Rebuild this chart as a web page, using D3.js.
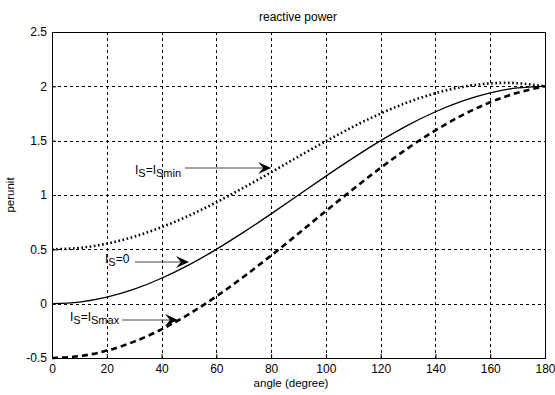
<!DOCTYPE html>
<html><head><meta charset="utf-8">
<script src="https://cdn.jsdelivr.net/npm/d3@7/dist/d3.min.js"></script>
<style>body{margin:0;background:#fff}text{font-family:"Liberation Sans",Arial,sans-serif}</style>
</head><body><svg id="c" width="555" height="395"></svg>
<script>
const angles = [0,10,20,30,40,50,60,70,80,90,100,110,120,130,140,150,160,170,180];
const qZero = [0,0.015,0.060,0.134,0.234,0.357,0.5,0.658,0.826,1,1.174,1.342,1.5,1.643,1.766,1.866,1.940,1.985,2.0];
const qSmin = [0.5,0.513,0.552,0.617,0.704,0.810,0.933,1.068,1.209,1.354,1.495,1.629,1.75,1.854,1.937,1.995,2.027,2.029,2.0];
const qSmax = [-0.5,-0.483,-0.432,-0.349,-0.236,-0.096,0.067,0.248,0.443,0.646,0.853,1.055,1.25,1.432,1.595,1.737,1.853,1.941,2.0];
const xTicks = [0,20,40,60,80,100,120,140,160,180];
const yTicks = [-0.5,0,0.5,1,1.5,2,2.5];
const yTickLabels = ["-0.5","0","0.5","1","1.5","2","2.5"];
const notes = [
  {sub:"S", rest:"=I", sub2:"Smin", tx:135, ty:174, x0:185, y0:168, at:80},
  {sub:"S", rest:"=0", sub2:"", tx:105, ty:263, x0:135, y0:262, at:50},
  {sub:"S", rest:"=I", sub2:"Smax", tx:70, ty:321, x0:122, y0:320, at:46}
];

const svg = d3.select("#c");
const L=52, R=545, T=32, B=358;
const x = d3.scaleLinear().domain([0,180]).range([L,R]);
const y = d3.scaleLinear().domain([-0.5,2.5]).range([B,T]);

// grid
const g = svg.append("g");
g.selectAll("line.gx").data(xTicks.slice(1,-1)).join("line")
  .attr("x1",d=>Math.round(x(d))+0.5).attr("x2",d=>Math.round(x(d))+0.5).attr("y1",T).attr("y2",B)
  .attr("stroke","#000").attr("stroke-width",1).attr("stroke-dasharray","3,3");
g.selectAll("line.gy").data(yTicks.slice(1,-1)).join("line")
  .attr("y1",d=>Math.round(y(d))+0.5).attr("y2",d=>Math.round(y(d))+0.5).attr("x1",L).attr("x2",R)
  .attr("stroke","#000").attr("stroke-width",1).attr("stroke-dasharray","3,3");

// axes
const xa = svg.append("g").attr("transform",`translate(0,${B})`)
  .call(d3.axisBottom(x).tickValues(xTicks).tickSize(-4).tickPadding(6).tickFormat(d3.format("d")));
const ya = svg.append("g").attr("transform",`translate(${L},0)`)
  .call(d3.axisLeft(y).tickValues(yTicks).tickSize(-4).tickPadding(5).tickFormat((d,i)=>yTickLabels[i]));
[xa,ya].forEach(a=>{a.select(".domain").remove();a.selectAll("text").attr("font-size",12).attr("fill","#000");a.selectAll("line").attr("stroke","#000");});
svg.append("rect").attr("x",L+0.5).attr("y",T+0.5).attr("width",R-L).attr("height",B-T)
  .attr("fill","none").attr("stroke","#000").attr("stroke-width",1);

// curves
const line = (vals)=>d3.line().x((d,i)=>x(angles[i])).y(d=>y(d)).curve(d3.curveNatural)(vals);
svg.append("path").attr("d",line(qZero)).attr("fill","none").attr("stroke","#000").attr("stroke-width",1.3);
svg.append("path").attr("d",line(qSmin)).attr("fill","none").attr("stroke","#000").attr("stroke-width",2.6).attr("stroke-dasharray","1.6,2.6");
svg.append("path").attr("d",line(qSmax)).attr("fill","none").attr("stroke","#000").attr("stroke-width",2.6).attr("stroke-dasharray","6,4");

// annotations
notes.forEach(n=>{
  const t = svg.append("text").attr("x",n.tx).attr("y",n.ty).attr("font-size",12).attr("fill","#000");
  t.append("tspan").text("I");
  t.append("tspan").attr("dy",3).attr("font-size",11).text(n.sub);
  t.append("tspan").attr("dy",-3).text(n.rest);
  if(n.sub2) t.append("tspan").attr("dy",3).attr("font-size",11).text(n.sub2);
  const tipX = x(n.at);
  svg.append("line").attr("x1",n.x0).attr("y1",n.y0).attr("x2",tipX-6).attr("y2",n.y0)
    .attr("stroke","#444").attr("stroke-width",1);
  svg.append("path").attr("d",`M${tipX},${n.y0} L${tipX-13},${n.y0-6} L${tipX-8},${n.y0} L${tipX-13},${n.y0+6} Z`)
    .attr("fill","#000");
});

// titles
svg.append("text").attr("x",298).attr("y",21).attr("text-anchor","middle").attr("font-size",12).text("reactive power");
svg.append("text").attr("x",291).attr("y",387).attr("text-anchor","middle").attr("font-size",11.5).text("angle (degree)");
svg.append("text").attr("transform","translate(14,195) rotate(-90)").attr("text-anchor","middle").attr("font-size",11.5).text("perunit");
</script></body></html>
